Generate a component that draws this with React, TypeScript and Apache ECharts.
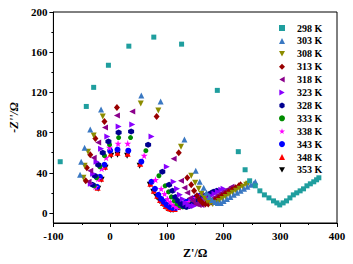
import { useEffect, useRef } from "react";
import * as echarts from "echarts";

const seriesNames = ["298 K", "303 K", "308 K", "313 K", "318 K", "323 K", "328 K", "333 K", "338 K", "343 K", "348 K", "353 K"];
const seriesColors = ["#1f9e9e", "#3a78c2", "#8c8c00", "#990000", "#8b008b", "#8a00ff", "#000090", "#008c00", "#ff00ff", "#0000ff", "#ff0000", "#000000"];

const xTicks = [-100, 0, 100, 200, 300, 400];
const yTicks = [0, 40, 80, 120, 160, 200];
const yMinorTicks = [20, 60, 100, 140, 180];

const d298 = [[-88,51],[-42,106],[-29,125],[-3,147],[33,166],[77,175],[126,168],[189,122],[226,61],[238,43],[246,32],[256,27],[264,22],[272,18],[280,15],[288,12],[294,10],[299,8],[305,10],[311,12],[317,15],[323,18],[329,20],[335,22],[341,24],[347,27],[353,29],[359,31],[364,33],[368,35]];
const d303 = [[-53,38],[-51,51],[-45,65],[-35,83],[-16,103],[55,117],[89,111],[131,73],[151,42],[158,31],[165,25],[170,20],[175,16],[180,13],[185,11],[190,10],[195,10],[200,12],[206,14],[212,16],[218,18],[224,20],[230,22],[236,24],[242,26],[248,28],[253,29],[256,31]];
const d308 = [[-47,35],[-45,47],[-39,61],[-29,77],[-13,96],[54,109],[85,102],[125,66],[143,37],[150,30],[156,24],[161,19],[166,15],[171,12],[176,10],[181,9],[186,10],[192,12],[198,14],[204,16],[210,18],[216,20],[222,22],[228,24],[234,26],[240,28],[243,29]];
const d313 = [[-43,32],[-41,45],[-35,58],[-26,74],[-10,91],[12,105],[82,96],[121,60],[136,35],[143,28],[148,22],[153,17],[158,13],[163,10],[168,9],[173,9],[179,11],[185,13],[191,15],[197,17],[203,19],[209,21],[215,23],[221,25],[227,27],[230,28]];
const d318 = [[-38,31],[-35,42],[-29,55],[-21,70],[-9,85],[12,97],[39,101],[112,54],[125,32],[131,25],[136,20],[141,15],[146,12],[151,9],[156,8],[161,8],[167,10],[173,12],[179,14],[185,16],[191,18],[197,20],[203,22],[209,24],[214,26]];
const d323 = [[-34,29],[-30,39],[-24,51],[-16,64],[-5,76],[15,86],[39,88],[73,76],[100,46],[112,31],[118,24],[123,18],[128,14],[133,10],[138,8],[143,7],[148,7],[154,9],[160,11],[166,13],[172,15],[178,17],[184,19],[190,21],[196,23],[200,24]];
const d328 = [[-31,28],[-27,37],[-21,48],[-13,60],[-3,71],[15,80],[37,81],[67,68],[92,41],[104,28],[110,22],[115,16],[120,12],[125,9],[130,7],[135,6],[140,7],[146,9],[152,11],[158,13],[164,15],[170,17],[176,19],[182,21],[188,22]];
const d333 = [[-28,27],[-24,35],[-18,46],[-10,57],[-1,68],[15,75],[36,75],[63,62],[86,37],[97,27],[103,21],[108,16],[113,12],[118,9],[123,7],[128,6],[133,6],[139,8],[145,10],[151,12],[157,14],[163,16],[169,18],[175,19],[178,20]];
const d338 = [[-26,26],[-21,34],[-15,44],[-7,55],[-1,65],[14,69],[31,69],[60,57],[80,33],[90,24],[96,19],[101,14],[106,11],[111,8],[116,6],[121,6],[127,7],[133,9],[139,11],[145,13],[151,15],[157,16],[163,18],[170,19]];
const d343 = [[-23,26],[-18,36],[-10,48],[0,62],[13,63],[32,62],[55,51],[73,31],[79,24],[85,18],[90,14],[95,11],[100,8],[105,6],[110,5],[116,5],[122,7],[128,9],[134,11],[140,12],[146,14],[152,16],[158,17],[162,18]];
const d348 = [[-22,25],[-16,34],[-9,46],[1,59],[13,60],[31,59],[53,49],[71,29],[77,22],[83,17],[88,13],[93,10],[98,7],[103,5],[108,4],[114,4],[120,6],[126,8],[132,10],[138,11],[144,13],[150,15],[155,16]];
const d353 = [[-21,24],[-15,33],[-8,45],[2,57],[13,58],[30,57],[52,47],[70,28],[76,21],[82,16],[87,12],[92,9],[97,6],[102,4],[107,3],[111,3],[117,5],[123,7],[129,8],[135,10],[141,12],[147,13],[150,14]];

const allData = [d298, d303, d308, d313, d318, d323, d328, d333, d338, d343, d348, d353];

const DOWN = "path://M0,0 L10,0 L5,9 Z";
const LEFT = "path://M0,5 L9,0 L9,10 Z";
const RIGHT = "path://M0,0 L9,5 L0,10 Z";
const HEX = "path://M5,0 L9.33,2.5 L9.33,7.5 L5,10 L0.67,7.5 L0.67,2.5 Z";
const STAR = "path://M5,0 L6.2,3.6 L10,3.6 L6.9,5.9 L8.1,9.5 L5,7.3 L1.9,9.5 L3.1,5.9 L0,3.6 L3.8,3.6 Z";
const symbols = ["rect", "triangle", DOWN, "diamond", LEFT, RIGHT, HEX, "circle", STAR, "circle", "triangle", DOWN];
const sizes: any[] = [5, 6, 6, [6, 7], 6, 6, 6, 5, 7, 6, 6, 6];

const FONT = "'Liberation Serif', 'Times New Roman', serif";

export default function App() {
  const ref = useRef<HTMLDivElement>(null);
  useEffect(() => {
    if (!ref.current) return;
    const chart = echarts.init(ref.current, null, { renderer: "svg" });
    const labelStyle = { fontFamily: FONT, fontWeight: "bold", fontSize: 11, color: "#000" };
    chart.setOption({
      animation: false,
      backgroundColor: "#fff",
      grid: { left: 52, right: 16, top: 12, bottom: 40, show: true, borderColor: "#000", borderWidth: 1 },
      legend: {
        orient: "vertical",
        left: 279,
        top: 22,
        itemWidth: 6,
        itemHeight: 6,
        itemGap: 0.9,
        padding: 0,
        data: seriesNames,
        textStyle: { fontFamily: FONT, fontWeight: "bold", fontSize: 10, lineHeight: 12, color: "#000", padding: [0, 0, 0, 7] },
      },
      xAxis: {
        type: "value",
        min: xTicks[0],
        max: xTicks[xTicks.length - 1],
        interval: 100,
        name: "Z'/Ω",
        nameLocation: "middle",
        nameGap: 24,
        nameTextStyle: { fontFamily: FONT, fontWeight: "bold", fontSize: 12, color: "#000" },
        axisLine: { onZero: false, lineStyle: { color: "#000", width: 1 } },
        axisTick: { length: 4, lineStyle: { color: "#000" } },
        minorTick: { show: true, splitNumber: 2, length: 2, lineStyle: { color: "#000" } },
        axisLabel: { ...labelStyle, margin: 7 },
        splitLine: { show: false },
      },
      yAxis: [
        {
          type: "value",
          min: -10,
          max: 200,
          name: "-Z''/Ω",
          nameLocation: "middle",
          nameGap: 30,
          nameTextStyle: { fontFamily: FONT, fontWeight: "bold", fontStyle: "italic", fontSize: 12, color: "#000" },
          axisLine: { show: true, onZero: false, lineStyle: { color: "#000", width: 1 } },
          axisTick: { show: true, length: 4, customValues: yTicks, lineStyle: { color: "#000" } },
          axisLabel: { ...labelStyle, margin: 6, customValues: yTicks },
          splitLine: { show: false },
        },
        {
          type: "value",
          min: -10,
          max: 200,
          position: "left",
          axisLine: { show: false, onZero: false },
          axisTick: { show: true, length: 2, customValues: yMinorTicks, lineStyle: { color: "#000" } },
          axisLabel: { show: false },
          splitLine: { show: false },
        },
      ],
      series: seriesNames.map((name, i) => ({
        name,
        type: "scatter",
        data: allData[i],
        symbol: symbols[i],
        symbolSize: sizes[i],
        itemStyle: { color: seriesColors[i], opacity: 1 },
        z: 20 - i,
      })),
    });
    return () => chart.dispose();
  }, []);
  return <div ref={ref} style={{ position: "absolute", left: 0, top: 0, width: 353, height: 264 }} />;
}
